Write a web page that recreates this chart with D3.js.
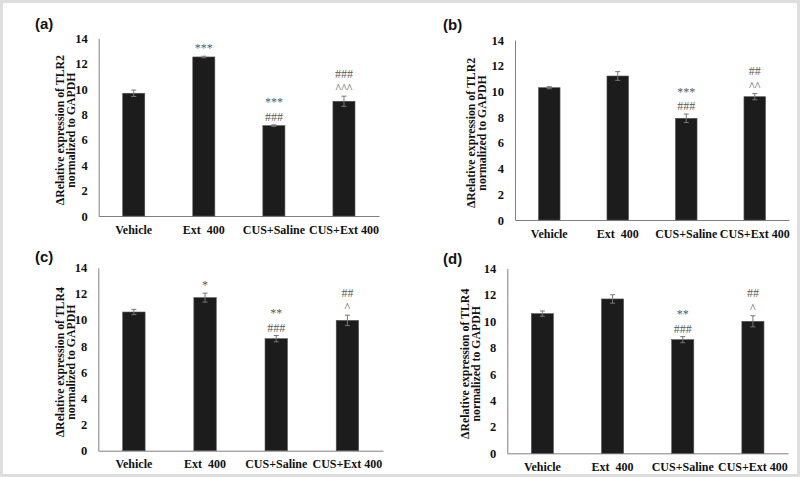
<!DOCTYPE html>
<html>
<head lang="en">
  <title>TLR2 / TLR4 expression</title>
  <script src="https://d3js.org/d3.v7.min.js" charset="utf-8"></script>
  <style>
    body { margin: 0; background: #fff; }
  </style>
</head>
<body>
  <script>
    // groups on the x axis, same for all four panels
    var groups = ["Vehicle", "Ext  400", "CUS+Saline", "CUS+Ext 400"];
    var yTicks = [0, 2, 4, 6, 8, 10, 12, 14];

    // (a) TLR2
    var tlr2A = [9.67, 12.53, 7.12, 9.04];
    var errA = [0.25, 0.06, 0.06, 0.4];
    var marksA = [[], ["***"], ["***", "###"], ["###", "^^^"]];

    // (b) TLR2
    var tlr2B = [10.29, 11.2, 7.91, 9.59];
    var errB = [0.08, 0.34, 0.33, 0.24];
    var marksB = [[], [], ["***", "###"], ["##", "^^"]];

    // (c) TLR4
    var tlr4C = [10.61, 11.71, 8.57, 9.97];
    var errC = [0.2, 0.34, 0.24, 0.4];
    var marksC = [[], ["*"], ["**", "###"], ["##", "^"]];

    // (d) TLR4
    var tlr4D = [10.57, 11.68, 8.6, 9.99];
    var errD = [0.2, 0.32, 0.23, 0.42];
    var marksD = [[], [], ["**", "###"], ["##", "^"]];

    var width = 800;
    var height = 477;

    // layout of each panel (pixel boxes)
    var panels = [
      { tag: "(a)", gene: "TLR2", values: tlr2A, errs: errA, marks: marksA,
        x0: 98.7, x1: 379, yTop: 38.3, yBot: 216, lab1: 60, lab2: 71, tagX: 35, tagY: 28.5 },
      { tag: "(b)", gene: "TLR2", values: tlr2B, errs: errB, marks: marksB,
        x0: 515, x1: 789, yTop: 40, yBot: 220, lab1: 470.7, lab2: 481.7, tagX: 443, tagY: 30.2 },
      { tag: "(c)", gene: "TLR4", values: tlr4C, errs: errC, marks: marksC,
        x0: 98.3, x1: 383, yTop: 267.7, yBot: 450.7, lab1: 60, lab2: 70.7, tagX: 35, tagY: 262 },
      { tag: "(d)", gene: "TLR4", values: tlr4D, errs: errD, marks: marksD,
        x0: 507.3, x1: 788, yTop: 268.3, yBot: 453.3, lab1: 465, lab2: 476, tagX: 443, tagY: 263.5 }
    ];

    var serif = "'Liberation Serif', 'Times New Roman', serif";

    var svg = d3.select("body")
      .append("svg")
      .attr("width", width)
      .attr("height", height);

    svg.append("rect")
      .attr("x", 1.5).attr("y", 1.5)
      .attr("width", width - 3).attr("height", height - 3)
      .attr("fill", "#fff")
      .attr("stroke", "#dedede")
      .attr("stroke-width", 3);

    panels.forEach(function(p) {
      var x = d3.scaleBand()
        .domain(groups)
        .range([p.x0, p.x1])
        .paddingInner(0.685)
        .paddingOuter(0.3425);

      var y = d3.scaleLinear()
        .domain([0, 14])
        .range([p.yBot, p.yTop]);

      var g = svg.append("g");

      // y axis: line and labels, no tick marks
      var yAxis = g.append("g")
        .attr("transform", "translate(" + p.x0 + ",0)")
        .call(d3.axisLeft(y).tickValues(yTicks).tickSize(0).tickPadding(11));
      yAxis.attr("font-family", serif).attr("font-size", 12.5).attr("font-weight", "bold");
      yAxis.select(".domain").attr("stroke", "#808080");

      var xAxis = g.append("g")
        .attr("transform", "translate(0," + p.yBot + ")")
        .call(d3.axisBottom(x).tickSize(0).tickPadding(9));
      xAxis.attr("font-family", serif).attr("font-size", 12).attr("font-weight", "bold");
      xAxis.select(".domain").attr("stroke", "#808080");

      g.selectAll(".tick text")
        .attr("fill", "#111")
        .style("white-space", "pre");

      var rows = groups.map(function(name, i) {
        return { name: name, v: p.values[i], e: p.errs[i], m: p.marks[i] };
      });

      // bars
      g.selectAll("rect.bar")
        .data(rows)
        .enter().append("rect")
          .attr("class", "bar")
          .attr("x", function(d) { return x(d.name); })
          .attr("y", function(d) { return y(d.v); })
          .attr("width", x.bandwidth())
          .attr("height", function(d) { return p.yBot - y(d.v); })
          .attr("fill", "#1c1c1c")
          .attr("stroke", "#555")
          .attr("stroke-width", 0.6);

      // error bars
      var eb = g.selectAll("g.err")
        .data(rows)
        .enter().append("g")
          .attr("class", "err")
          .attr("stroke", "#777")
          .attr("stroke-width", 1);
      var cx = function(d) { return x(d.name) + x.bandwidth() / 2; };
      eb.append("line")
        .attr("x1", cx).attr("x2", cx)
        .attr("y1", function(d) { return y(d.v + d.e); })
        .attr("y2", function(d) { return y(d.v - d.e); });
      eb.append("line")
        .attr("x1", function(d) { return cx(d) - 2.5; })
        .attr("x2", function(d) { return cx(d) + 2.5; })
        .attr("y1", function(d) { return y(d.v + d.e); })
        .attr("y2", function(d) { return y(d.v + d.e); });
      eb.append("line")
        .attr("x1", function(d) { return cx(d) - 2.5; })
        .attr("x2", function(d) { return cx(d) + 2.5; })
        .attr("y1", function(d) { return y(d.v - d.e); })
        .attr("y2", function(d) { return y(d.v - d.e); });

      // significance marks, listed top to bottom
      rows.forEach(function(d) {
        var n = d.m.length;
        d.m.forEach(function(s, k) {
          g.append("text")
            .attr("x", cx(d))
            .attr("y", y(d.v + d.e) - 4 - (n - 1 - k) * 14.5)
            .attr("text-anchor", "middle")
            .attr("fill", "#5a5a5a")
            .style("font-family", serif)
            .style("font-size", "12px")
            .text(s);
        });
      });

      // two-line y axis title
      var midY = (p.yTop + p.yBot) / 2 + 3;
      [["\u0394Relative expression of " + p.gene, p.lab1],
       ["normalized to GAPDH", p.lab2]].forEach(function(t) {
        g.append("text")
          .attr("transform", "translate(" + (t[1] + 4) + "," + midY + ") rotate(-90)")
          .attr("text-anchor", "middle")
          .attr("fill", "#111")
          .style("font-family", serif)
          .style("font-weight", "bold")
          .style("font-size", "11.8px")
          .text(t[0]);
      });

      // panel letter
      g.append("text")
        .attr("x", p.tagX)
        .attr("y", p.tagY)
        .attr("fill", "#111")
        .style("font-family", "'Liberation Sans', Arial, sans-serif")
        .style("font-weight", "bold")
        .style("font-size", "15px")
        .text(p.tag);
    });
  </script>
</body>
</html>
